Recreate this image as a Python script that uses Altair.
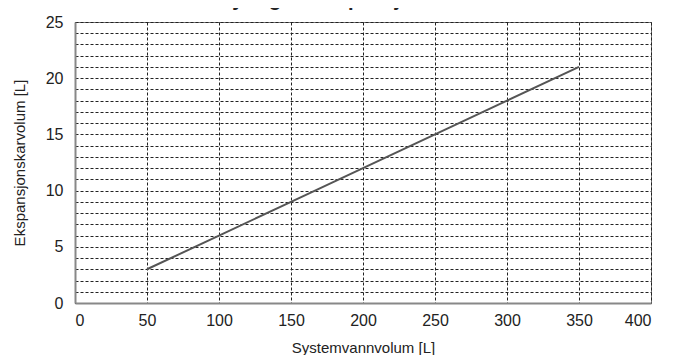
import altair as alt
import pandas as pd

system_volume = [50, 100, 150, 200, 250, 300, 350]
expansion_volume = [3, 6, 9, 12, 15, 18, 21]
x_ticks = [0, 50, 100, 150, 200, 250, 300, 350, 400]
y_grid = list(range(0, 26))

df = pd.DataFrame({"x": system_volume, "y": expansion_volume})

FONT = "Liberation Sans"

chart = alt.Chart(df).mark_line(color="#555555", strokeWidth=2).encode(
    x=alt.X(
        "x:Q",
        scale=alt.Scale(domain=[0, 400], nice=False),
        axis=alt.Axis(
            title="Systemvannvolum [L]",
            values=x_ticks,
            grid=True,
            gridDash=[3, 2],
            gridColor="#222222",
            gridWidth=1,
            gridOpacity=1,
            ticks=False,
            labelPadding=9,
            labelFontSize=16,
            labelColor="#222222",
            labelFont=FONT,
            titleFont=FONT,
            titleFontSize=15,
            titleFontWeight="normal",
            titleColor="#222222",
            titlePadding=12,
            domainColor="#888888",
            domainWidth=2,
        ),
    ),
    y=alt.Y(
        "y:Q",
        scale=alt.Scale(domain=[0, 25], nice=False),
        axis=alt.Axis(
            title="Ekspansjonskarvolum [L]",
            values=y_grid,
            labelExpr="datum.value % 5 == 0 ? datum.label : ''",
            grid=True,
            gridDash=[3, 2],
            gridColor="#222222",
            gridWidth=1,
            gridOpacity=1,
            ticks=False,
            labelPadding=12,
            labelFontSize=16,
            labelColor="#222222",
            labelFont=FONT,
            titleFont=FONT,
            titleFontSize=15,
            titleFontWeight="normal",
            titleColor="#222222",
            titlePadding=18,
            domainColor="#888888",
            domainWidth=2,
        ),
    ),
).properties(
    width=576,
    height=281,
    autosize=alt.AutoSizeParams(type="none"),
    padding={"left": 67, "top": 14, "right": 10, "bottom": 52},
    title=alt.TitleParams(
        text="Styring av ekspansjonskar",
        font=FONT,
        fontSize=20,
        fontWeight="bold",
        color="#222222",
        frame="group",
        anchor="middle",
        baseline="alphabetic",
        offset=0,
        dy=12,
        dx=-24,
    ),
).configure_view(
    stroke="#777777",
    strokeWidth=1,
)

chart.save("out.html", embed_options={"renderer": "svg", "actions": False})
